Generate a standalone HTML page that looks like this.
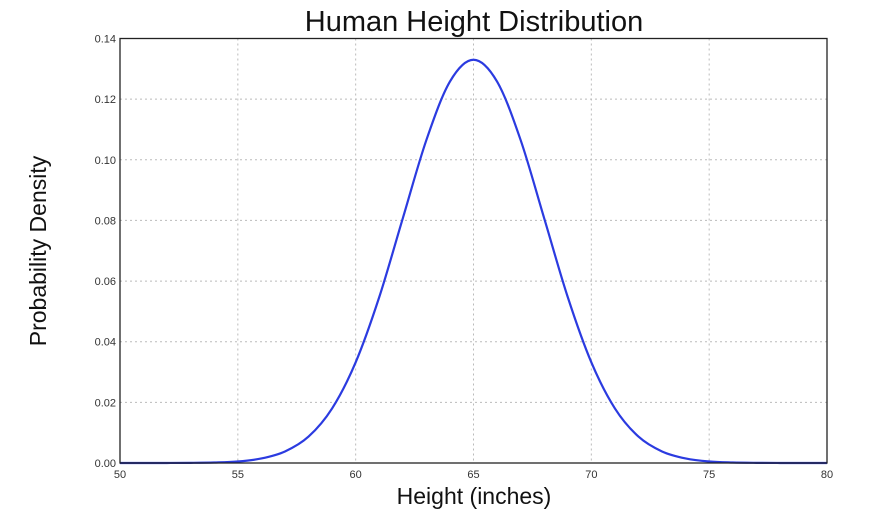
<!DOCTYPE html>
<html><head><meta charset="utf-8"><style>
body{margin:0;background:#fff;width:874px;height:516px;overflow:hidden}
svg{display:block;font-family:"Liberation Sans","DejaVu Sans",sans-serif}
</style></head><body>
<svg id="chart" width="874" height="516">
<text x="474" y="31" text-anchor="middle" font-size="29" fill="#111">Human Height Distribution</text>
<text x="474" y="504" text-anchor="middle" font-size="23" fill="#111">Height (inches)</text>
<text transform="translate(46,251) rotate(-90)" text-anchor="middle" font-size="23" fill="#111">Probability Density</text>
<g id="grid"></g><g id="ticks"></g><g id="series"></g>
<rect x="120" y="38.5" width="707" height="424.5" fill="none" stroke="#222" stroke-width="1.3"/>
</svg>
<script>
const xTicks=[50,55,60,65,70,75,80];
const yTicks=[0,0.02,0.04,0.06,0.08,0.10,0.12,0.14];
const yTickLabels=["0.00","0.02","0.04","0.06","0.08","0.10","0.12","0.14"];
const heights=[50,51,52,53,54,55,56,57,58,59,60,61,62,63,64,65,66,67,68,69,70,71,72,73,74,75,76,77,78,79,80];
const density=[0,0,0.00001,0.00005,0.00017,0.0005,0.0015,0.0038,0.0087,0.0180,0.0332,0.0547,0.0807,0.1065,0.1258,0.1330,0.1258,0.1065,0.0807,0.0547,0.0332,0.0180,0.0087,0.0038,0.0015,0.0005,0.00017,0.00005,0.00001,0,0];
</script>
<script>
const NS="http://www.w3.org/2000/svg";
const X0=120,X1=827,Y0=463,Y1=38.5;
const xs=v=>X0+(v-50)/30*(X1-X0);
const ys=v=>Y0-v/0.14*(Y0-Y1);
function mk(tag,attrs,parent){const e=document.createElementNS(NS,tag);for(const k in attrs)e.setAttribute(k,attrs[k]);parent.appendChild(e);return e;}
const grid=document.getElementById('grid'),ticks=document.getElementById('ticks'),series=document.getElementById('series');
xTicks.forEach(t=>{
  const x=xs(t);
  if(t>50&&t<80){const g=mk('line',{x1:x,x2:x,y1:Y1,y2:Y0,stroke:'#bbb','stroke-dasharray':'2,3','stroke-width':1},grid);
  
  }
  const l=mk('text',{x:x,y:Y0+15,'text-anchor':'middle','font-size':11,fill:'#333'},ticks);
  l.textContent=t;
  
  
});
yTicks.forEach((t,i)=>{
  const y=ys(t);
  if(i>0&&i<yTicks.length-1){const g=mk('line',{x1:X0,x2:X1,y1:y,y2:y,stroke:'#bbb','stroke-dasharray':'2,3','stroke-width':1},grid);
  
  }
  const l=mk('text',{x:X0-4,y:y+4,'text-anchor':'end','font-size':11,fill:'#333'},ticks);
  l.textContent=yTickLabels[i];
  
  
});
const pts=heights.map((h,i)=>[xs(h),ys(density[i])]);
let d='M'+pts[0][0]+','+pts[0][1];
for(let i=0;i<pts.length-1;i++){
  const p0=pts[Math.max(0,i-1)],p1=pts[i],p2=pts[i+1],p3=pts[Math.min(pts.length-1,i+2)];
  const c1=[p1[0]+(p2[0]-p0[0])/6,p1[1]+(p2[1]-p0[1])/6];
  const c2=[p2[0]-(p3[0]-p1[0])/6,p2[1]-(p3[1]-p1[1])/6];
  d+=' C'+c1+' '+c2+' '+p2;
}
const path=mk('path',{d:d,fill:'none',stroke:'#2b3be0','stroke-width':2.2,'stroke-linejoin':'round'},series);


</script>
</body></html>
